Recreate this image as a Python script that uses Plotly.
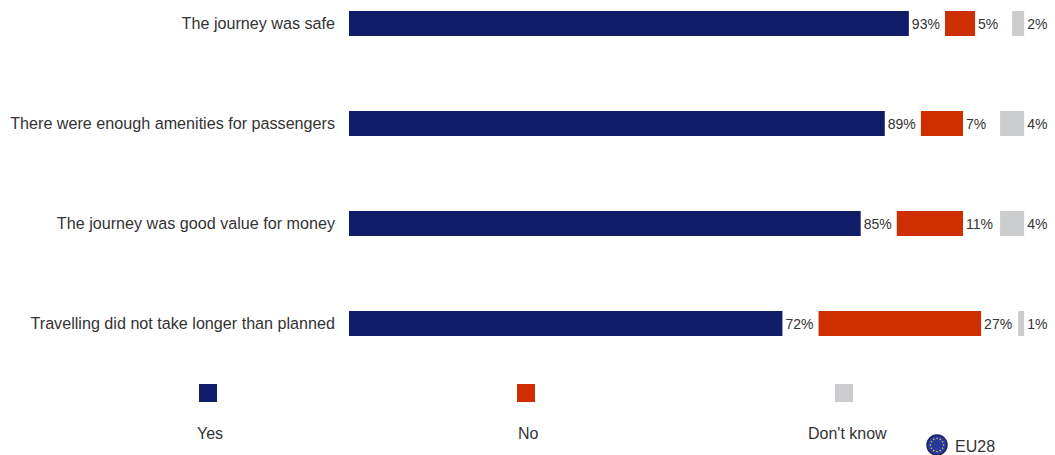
import math
import plotly.graph_objects as go

# Survey answers in percent
statements = [
    "The journey was safe",
    "There were enough amenities for passengers",
    "The journey was good value for money",
    "Travelling did not take longer than planned",
]
yes_values = [93, 89, 85, 72]
no_values = [5, 7, 11, 27]
dont_know_values = [2, 4, 4, 1]
legend_labels = ["Yes", "No", "Don't know"]

NAVY = "#0F1D69"
RED = "#CF2E00"
GREY = "#CBCCCE"
TEXT = "#333333"
FONT = "Liberation Sans"

WIDTH, HEIGHT = 1055, 455
PLOT_LEFT = 349
PX_PER_UNIT = 6.02
GAP = 6        # blank stretch between the Yes and No bars, in percentage units
FULL_SCALE = 112.15  # right edge where the Don't know bars finish


def px(x):
    # paper coordinates span the plot area, which starts at PLOT_LEFT
    return (x - PLOT_LEFT) / (WIDTH - PLOT_LEFT)


def py(y):
    return 1 - y / HEIGHT


fig = go.Figure()

series = [
    ("Yes", yes_values, [0] * 4, NAVY),
    ("No", no_values, [y + GAP for y in yes_values], RED),
    ("Don't know", dont_know_values, [FULL_SCALE - d for d in dont_know_values], GREY),
]
for name, values, bases, colour in series:
    fig.add_trace(go.Bar(
        name=name,
        y=statements,
        x=values,
        base=bases,
        orientation="h",
        width=0.25,
        marker=dict(color=colour, line=dict(width=0)),
        text=[f"{v}%" for v in values],
        textposition="outside",
        textangle=0,
        cliponaxis=False,
        textfont=dict(family=FONT, size=14, color=TEXT),
        hoverinfo="skip",
    ))

shapes = []
annotations = []

# Legend: one swatch above each caption
legend_positions = [(208, 210), (526, 528), (844, 847)]
for (swatch_x, caption_x), label, (_, _, _, colour) in zip(legend_positions, legend_labels, series):
    shapes.append(dict(
        type="rect", xref="paper", yref="paper",
        x0=px(swatch_x - 9), x1=px(swatch_x + 9),
        y0=py(402), y1=py(384),
        fillcolor=colour, line=dict(width=0),
    ))
    annotations.append(dict(
        text=label, xref="paper", yref="paper",
        x=px(caption_x), y=py(433), xanchor="center", yanchor="middle",
        showarrow=False, font=dict(family=FONT, size=16, color=TEXT),
    ))

# EU badge: blue disc with a ring of gold dots
cx, cy, radius = 937, 445, 10
shapes.append(dict(
    type="circle", xref="paper", yref="paper",
    x0=px(cx - radius), x1=px(cx + radius),
    y0=py(cy + radius), y1=py(cy - radius),
    fillcolor="#2A3A9A", line=dict(color="#1A2468", width=1.5),
))
for k in range(12):
    angle = 2 * math.pi * k / 12
    dx, dy = 6.5 * math.cos(angle), 6.5 * math.sin(angle)
    shapes.append(dict(
        type="circle", xref="paper", yref="paper",
        x0=px(cx + dx - 0.8), x1=px(cx + dx + 0.8),
        y0=py(cy + dy + 0.8), y1=py(cy + dy - 0.8),
        fillcolor="#D8C95A", line=dict(width=0),
    ))
annotations.append(dict(
    text="EU28", xref="paper", yref="paper",
    x=px(953), y=py(446), xanchor="left", yanchor="middle",
    showarrow=False, font=dict(family=FONT, size=16, color=TEXT),
))

fig.update_layout(
    width=WIDTH,
    height=HEIGHT,
    margin=dict(l=PLOT_LEFT, r=0, t=0, b=0, autoexpand=False),
    paper_bgcolor="white",
    plot_bgcolor="white",
    barmode="overlay",
    showlegend=False,
    shapes=shapes,
    annotations=annotations,
    xaxis=dict(
        range=[0, (WIDTH - PLOT_LEFT) / PX_PER_UNIT],
        visible=False,
        fixedrange=True,
    ),
    yaxis=dict(
        type="category",
        categoryorder="array",
        categoryarray=statements,
        range=[4.315, -0.235],
        showgrid=False,
        showline=False,
        zeroline=False,
        ticks="",
        ticklabelstandoff=13,
        tickfont=dict(family=FONT, size=16.15, color=TEXT),
        fixedrange=True,
    ),
)

fig.write_html("out.html", config=dict(displayModeBar=False))
